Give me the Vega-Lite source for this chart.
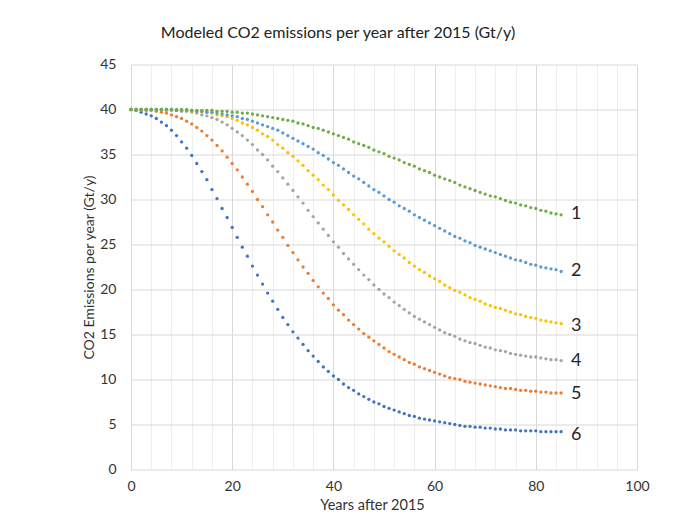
{
  "$schema": "https://vega.github.io/schema/vega-lite/v6.json",
  "width": 506,
  "height": 405,
  "autosize": {"type": "none"},
  "padding": {"left": 131, "top": 64.5, "right": 63, "bottom": 42.5},
  "background": "white",
  "config": {"view": {"stroke": null}, "font": "Lato"},
  "title": {"text": "Modeled CO2 emissions per year after 2015 (Gt/y)", "fontSize": 16, "fontWeight": "normal", "color": "#222222", "font": "Lato", "anchor": "middle", "dx": -46, "offset": 17},
  "datasets": {
    "emissions": [
      {"t":0,"s1":40,"s2":40,"s3":40,"s4":40,"s5":40,"s6":40},
      {"t":1,"s1":40,"s2":40,"s3":40,"s4":40,"s5":40,"s6":39.9},
      {"t":2,"s1":40,"s2":40,"s3":40,"s4":40,"s5":39.9,"s6":39.7},
      {"t":3,"s1":40,"s2":40,"s3":40,"s4":40,"s5":39.9,"s6":39.5},
      {"t":4,"s1":40,"s2":40,"s3":40,"s4":40,"s5":39.9,"s6":39.3},
      {"t":5,"s1":40,"s2":40,"s3":40,"s4":40,"s5":39.8,"s6":39.0},
      {"t":6,"s1":40,"s2":40,"s3":40,"s4":40,"s5":39.7,"s6":38.6},
      {"t":7,"s1":40,"s2":40,"s3":40,"s4":39.9,"s5":39.6,"s6":38.2},
      {"t":8,"s1":40,"s2":40,"s3":40,"s4":39.9,"s5":39.4,"s6":37.7},
      {"t":9,"s1":40,"s2":39.9,"s3":39.9,"s4":39.9,"s5":39.2,"s6":37.1},
      {"t":10,"s1":40,"s2":39.9,"s3":39.9,"s4":39.8,"s5":39.0,"s6":36.4},
      {"t":11,"s1":40,"s2":39.9,"s3":39.9,"s4":39.8,"s5":38.7,"s6":35.7},
      {"t":12,"s1":39.9,"s2":39.9,"s3":39.8,"s4":39.7,"s5":38.4,"s6":34.9},
      {"t":13,"s1":39.9,"s2":39.8,"s3":39.8,"s4":39.6,"s5":38.0,"s6":34.0},
      {"t":14,"s1":39.9,"s2":39.8,"s3":39.7,"s4":39.4,"s5":37.6,"s6":33.1},
      {"t":15,"s1":39.9,"s2":39.7,"s3":39.7,"s4":39.3,"s5":37.1,"s6":32.2},
      {"t":16,"s1":39.9,"s2":39.7,"s3":39.6,"s4":39.1,"s5":36.6,"s6":31.1},
      {"t":17,"s1":39.8,"s2":39.6,"s3":39.4,"s4":38.9,"s5":36.0,"s6":30.1},
      {"t":18,"s1":39.8,"s2":39.5,"s3":39.3,"s4":38.6,"s5":35.4,"s6":29.0},
      {"t":19,"s1":39.8,"s2":39.4,"s3":39.2,"s4":38.3,"s5":34.7,"s6":28.0},
      {"t":20,"s1":39.7,"s2":39.3,"s3":39.0,"s4":37.9,"s5":34.0,"s6":26.9},
      {"t":21,"s1":39.7,"s2":39.2,"s3":38.8,"s4":37.5,"s5":33.3,"s6":25.8},
      {"t":22,"s1":39.6,"s2":39.0,"s3":38.5,"s4":37.1,"s5":32.5,"s6":24.7},
      {"t":23,"s1":39.6,"s2":38.9,"s3":38.3,"s4":36.6,"s5":31.7,"s6":23.7},
      {"t":24,"s1":39.5,"s2":38.7,"s3":38.0,"s4":36.1,"s5":30.9,"s6":22.6},
      {"t":25,"s1":39.4,"s2":38.5,"s3":37.7,"s4":35.5,"s5":30.0,"s6":21.6},
      {"t":26,"s1":39.3,"s2":38.3,"s3":37.3,"s4":35.0,"s5":29.2,"s6":20.6},
      {"t":27,"s1":39.2,"s2":38.1,"s3":37.0,"s4":34.4,"s5":28.3,"s6":19.6},
      {"t":28,"s1":39.1,"s2":37.9,"s3":36.6,"s4":33.7,"s5":27.5,"s6":18.7},
      {"t":29,"s1":39.0,"s2":37.7,"s3":36.1,"s4":33.1,"s5":26.6,"s6":17.8},
      {"t":30,"s1":38.9,"s2":37.4,"s3":35.7,"s4":32.4,"s5":25.8,"s6":16.9},
      {"t":31,"s1":38.8,"s2":37.1,"s3":35.2,"s4":31.7,"s5":24.9,"s6":16.1},
      {"t":32,"s1":38.7,"s2":36.8,"s3":34.8,"s4":31.0,"s5":24.1,"s6":15.3},
      {"t":33,"s1":38.5,"s2":36.5,"s3":34.3,"s4":30.3,"s5":23.3,"s6":14.6},
      {"t":34,"s1":38.4,"s2":36.2,"s3":33.8,"s4":29.6,"s5":22.5,"s6":13.9},
      {"t":35,"s1":38.2,"s2":35.9,"s3":33.2,"s4":28.8,"s5":21.8,"s6":13.2},
      {"t":36,"s1":38.0,"s2":35.6,"s3":32.7,"s4":28.1,"s5":21.0,"s6":12.6},
      {"t":37,"s1":37.9,"s2":35.2,"s3":32.2,"s4":27.4,"s5":20.3,"s6":12.0},
      {"t":38,"s1":37.7,"s2":34.9,"s3":31.6,"s4":26.7,"s5":19.6,"s6":11.4},
      {"t":39,"s1":37.5,"s2":34.5,"s3":31.1,"s4":26.0,"s5":19.0,"s6":10.9},
      {"t":40,"s1":37.3,"s2":34.1,"s3":30.5,"s4":25.3,"s5":18.3,"s6":10.4},
      {"t":41,"s1":37.1,"s2":33.8,"s3":29.9,"s4":24.7,"s5":17.7,"s6":10.0},
      {"t":42,"s1":36.9,"s2":33.4,"s3":29.4,"s4":24.0,"s5":17.2,"s6":9.5},
      {"t":43,"s1":36.7,"s2":33.0,"s3":28.9,"s4":23.4,"s5":16.6,"s6":9.1},
      {"t":44,"s1":36.4,"s2":32.6,"s3":28.3,"s4":22.8,"s5":16.1,"s6":8.8},
      {"t":45,"s1":36.2,"s2":32.3,"s3":27.8,"s4":22.2,"s5":15.6,"s6":8.4},
      {"t":46,"s1":36.0,"s2":31.9,"s3":27.3,"s4":21.6,"s5":15.1,"s6":8.1},
      {"t":47,"s1":35.8,"s2":31.5,"s3":26.7,"s4":21.1,"s5":14.7,"s6":7.8},
      {"t":48,"s1":35.5,"s2":31.1,"s3":26.2,"s4":20.5,"s5":14.3,"s6":7.5},
      {"t":49,"s1":35.3,"s2":30.8,"s3":25.7,"s4":20.0,"s5":13.9,"s6":7.3},
      {"t":50,"s1":35.1,"s2":30.4,"s3":25.3,"s4":19.5,"s5":13.5,"s6":7.0},
      {"t":51,"s1":34.8,"s2":30.0,"s3":24.8,"s4":19.1,"s5":13.1,"s6":6.8},
      {"t":52,"s1":34.6,"s2":29.7,"s3":24.3,"s4":18.6,"s5":12.8,"s6":6.6},
      {"t":53,"s1":34.4,"s2":29.3,"s3":23.9,"s4":18.2,"s5":12.5,"s6":6.4},
      {"t":54,"s1":34.1,"s2":29.0,"s3":23.5,"s4":17.8,"s5":12.2,"s6":6.2},
      {"t":55,"s1":33.9,"s2":28.7,"s3":23.0,"s4":17.4,"s5":11.9,"s6":6.0},
      {"t":56,"s1":33.7,"s2":28.3,"s3":22.6,"s4":17.0,"s5":11.7,"s6":5.9},
      {"t":57,"s1":33.4,"s2":28.0,"s3":22.2,"s4":16.7,"s5":11.4,"s6":5.7},
      {"t":58,"s1":33.2,"s2":27.7,"s3":21.9,"s4":16.4,"s5":11.2,"s6":5.6},
      {"t":59,"s1":33.0,"s2":27.4,"s3":21.5,"s4":16.1,"s5":11.0,"s6":5.5},
      {"t":60,"s1":32.7,"s2":27.1,"s3":21.2,"s4":15.8,"s5":10.8,"s6":5.4},
      {"t":61,"s1":32.5,"s2":26.8,"s3":20.9,"s4":15.5,"s5":10.6,"s6":5.3},
      {"t":62,"s1":32.3,"s2":26.5,"s3":20.5,"s4":15.2,"s5":10.4,"s6":5.2},
      {"t":63,"s1":32.1,"s2":26.2,"s3":20.2,"s4":15.0,"s5":10.2,"s6":5.1},
      {"t":64,"s1":31.9,"s2":25.9,"s3":19.9,"s4":14.8,"s5":10.1,"s6":5.0},
      {"t":65,"s1":31.6,"s2":25.7,"s3":19.7,"s4":14.5,"s5":10.0,"s6":4.9},
      {"t":66,"s1":31.4,"s2":25.4,"s3":19.4,"s4":14.3,"s5":9.8,"s6":4.8},
      {"t":67,"s1":31.2,"s2":25.2,"s3":19.1,"s4":14.1,"s5":9.7,"s6":4.8},
      {"t":68,"s1":31.0,"s2":24.9,"s3":18.9,"s4":14.0,"s5":9.6,"s6":4.7},
      {"t":69,"s1":30.8,"s2":24.7,"s3":18.7,"s4":13.8,"s5":9.5,"s6":4.7},
      {"t":70,"s1":30.6,"s2":24.5,"s3":18.4,"s4":13.6,"s5":9.4,"s6":4.6},
      {"t":71,"s1":30.4,"s2":24.3,"s3":18.2,"s4":13.5,"s5":9.3,"s6":4.6},
      {"t":72,"s1":30.3,"s2":24.1,"s3":18.0,"s4":13.3,"s5":9.2,"s6":4.5},
      {"t":73,"s1":30.1,"s2":23.9,"s3":17.9,"s4":13.2,"s5":9.1,"s6":4.5},
      {"t":74,"s1":29.9,"s2":23.7,"s3":17.7,"s4":13.1,"s5":9.0,"s6":4.4},
      {"t":75,"s1":29.7,"s2":23.5,"s3":17.5,"s4":12.9,"s5":9.0,"s6":4.4},
      {"t":76,"s1":29.6,"s2":23.3,"s3":17.3,"s4":12.8,"s5":8.9,"s6":4.4},
      {"t":77,"s1":29.4,"s2":23.2,"s3":17.2,"s4":12.7,"s5":8.8,"s6":4.3},
      {"t":78,"s1":29.3,"s2":23.0,"s3":17.0,"s4":12.6,"s5":8.8,"s6":4.3},
      {"t":79,"s1":29.1,"s2":22.8,"s3":16.9,"s4":12.5,"s5":8.7,"s6":4.3},
      {"t":80,"s1":29.0,"s2":22.7,"s3":16.8,"s4":12.5,"s5":8.7,"s6":4.3},
      {"t":81,"s1":28.8,"s2":22.5,"s3":16.6,"s4":12.4,"s5":8.6,"s6":4.2},
      {"t":82,"s1":28.7,"s2":22.4,"s3":16.5,"s4":12.3,"s5":8.6,"s6":4.2},
      {"t":83,"s1":28.5,"s2":22.3,"s3":16.4,"s4":12.2,"s5":8.5,"s6":4.2},
      {"t":84,"s1":28.4,"s2":22.2,"s3":16.3,"s4":12.2,"s5":8.5,"s6":4.2},
      {"t":85,"s1":28.3,"s2":22.0,"s3":16.2,"s4":12.1,"s5":8.5,"s6":4.2}
    ],
    "labels": [
      {"t":85,"v":28.4,"lab":"1"},
      {"t":85,"v":22.1,"lab":"2"},
      {"t":85,"v":16.0,"lab":"3"},
      {"t":85,"v":12.1,"lab":"4"},
      {"t":85,"v":8.4,"lab":"5"},
      {"t":85,"v":3.8,"lab":"6"}
    ]
  },
  "resolve": {"axis": {"x": "independent"}},
  "layer": [
    {
      "data": {"name": "emissions"},
      "transform": [{"fold": ["s6","s5","s4","s3","s2","s1"], "as": ["series","v"]}],
      "mark": {"type": "point", "filled": true, "size": 11, "opacity": 1, "strokeWidth": 0},
      "encoding": {
        "x": {
          "field": "t", "type": "quantitative",
          "scale": {"domain": [0,100], "nice": false, "zero": false},
          "axis": {
            "orient": "bottom",
            "values": [0,20,40,60,80,100],
            "labelOverlap": false,
            "labelFlush": false,
            "grid": true, "gridColor": "#d9d9d9", "gridWidth": 1,
            "domain": false, "ticks": false,
            "labelFontSize": 14, "labelColor": "#333333", "labelPadding": 10, "labelFont": "Lato",
            "title": "Years after 2015",
            "titleFontSize": 14.5, "titleFontWeight": "normal", "titleColor": "#333333", "titleFont": "Lato",
            "titleX": 241, "titleY": 36, "titleBaseline": "middle"
          }
        },
        "y": {
          "field": "v", "type": "quantitative",
          "scale": {"domain": [0,45], "nice": false},
          "axis": {
            "values": [0,5,10,15,20,25,30,35,40,45],
            "labelOverlap": false,
            "grid": true, "gridColor": "#d9d9d9", "gridWidth": 1,
            "domain": false, "ticks": false,
            "labelFontSize": 14, "labelColor": "#333333", "labelPadding": 15, "labelFont": "Lato",
            "title": "CO2 Emissions per year (Gt/y)",
            "titleFontSize": 14, "titleFontWeight": "normal", "titleColor": "#333333", "titleFont": "Lato",
            "titlePadding": 3
          }
        },
        "color": {
          "field": "series", "type": "nominal",
          "scale": {"domain": ["s1","s2","s3","s4","s5","s6"], "range": ["#70AD47","#5B9BD5","#FFC000","#A5A5A5","#ED7D31","#4472C4"]},
          "legend": null
        }
      }
    },
    {
      "data": {"name": "labels"},
      "mark": {"type": "text", "align": "left", "baseline": "middle", "dx": 10, "fontSize": 18, "font": "Lato", "color": "#262626"},
      "encoding": {
        "x": {
          "field": "t", "type": "quantitative",
          "axis": {
            "orient": "top",
            "values": [4,8,12,16,24,28,32,36,44,48,52,56,64,68,72,76,84,88,92,96],
            "labels": false, "domain": false, "ticks": false, "title": null,
            "grid": true, "gridColor": "#eeeeee", "gridWidth": 1
          }
        },
        "y": {"field": "v", "type": "quantitative"},
        "text": {"field": "lab", "type": "nominal"}
      }
    }
  ]
}
